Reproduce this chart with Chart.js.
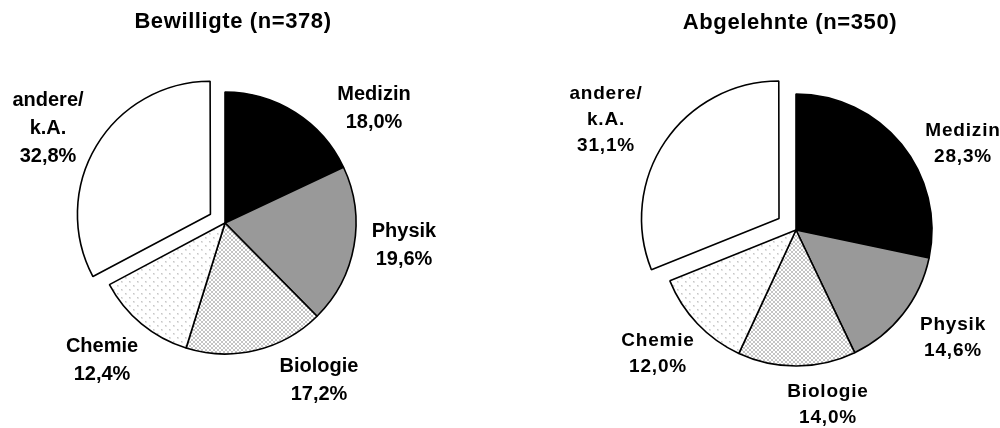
<!DOCTYPE html>
<html lang="de">
<head>
<meta charset="utf-8">
<title>Fachgebiete: Bewilligte und Abgelehnte</title>
<script src="https://cdn.jsdelivr.net/npm/chart.js@4/dist/chart.umd.min.js"></script>
<style>
  html, body { margin: 0; padding: 0; background: #ffffff; }
  #wrap { position: relative; width: 1000px; height: 428px; overflow: hidden; }
  .pane { position: absolute; top: 0; width: 500px; height: 428px; }
  #paneLeft { left: 0; }
  #paneRight { left: 500px; }
</style>
</head>
<body>
<div id="wrap">
  <div class="pane" id="paneLeft"><canvas id="chartLeft"></canvas></div>
  <div class="pane" id="paneRight"><canvas id="chartRight"></canvas></div>
</div>
<script>
// ---- data ----
const categories = ['Medizin', 'Physik', 'Biologie', 'Chemie', 'andere/\nk.A.'];
const titleBewilligt = 'Bewilligte (n=378)';
const titleAbgelehnt = 'Abgelehnte (n=350)';
const bewilligtShares = [18.0, 19.6, 17.2, 12.4, 32.8];
const abgelehntShares = [28.3, 14.6, 14.0, 12.0, 31.1];

// ---- fills: solid black, grey, cross-hatch, dotted, white ----
function makeTile(size, painter) {
  const c = document.createElement('canvas');
  c.width = size; c.height = size;
  const g = c.getContext('2d');
  g.fillStyle = '#ffffff';
  g.fillRect(0, 0, size, size);
  painter(g);
  return document.createElement('canvas').getContext('2d').createPattern(c, 'repeat');
}
const hatchFill = makeTile(4, g => {
  g.fillStyle = '#c4c4c4';
  for (let i = 0; i < 4; i++) {
    g.fillRect(i, i, 1, 1);
    g.fillRect(3 - i, i, 1, 1);
  }
});
const dotFill = makeTile(8, g => {
  g.fillStyle = '#e4e4e4';
  g.fillRect(1, 1, 2, 2);
  g.fillRect(5, 5, 2, 2);
  g.fillStyle = '#c6c6c6';
  g.fillRect(1, 1, 1, 1);
  g.fillRect(5, 5, 1, 1);
});
const sliceFills = ['#000000', '#999999', hatchFill, dotFill, '#ffffff'];

const fmtPct = v => v.toFixed(1).replace('.', ',') + '%';

// Category + percentage labels, placed around the pie centre
const sliceLabels = {
  id: 'sliceLabels',
  afterDatasetsDraw(chart, args, opts) {
    const ctx = chart.ctx;
    const meta = chart.getDatasetMeta(0);
    const values = chart.data.datasets[0].data;
    ctx.save();
    ctx.fillStyle = '#000000';
    ctx.font = 'bold ' + opts.size + 'px "Liberation Sans", Arial, sans-serif';
    ctx.letterSpacing = opts.spacing + 'px';
    ctx.textAlign = 'center';
    ctx.textBaseline = 'middle';
    meta.data.forEach((arc, i) => {
      const lines = chart.data.labels[i].split('\n').concat([fmtPct(values[i])]);
      const [dx, dy] = opts.offsets[i];
      const cx = arc.x + dx;
      const top = arc.y + dy - (lines.length - 1) * opts.lineHeight / 2;
      lines.forEach((t, k) => ctx.fillText(t, cx, top + k * opts.lineHeight));
    });
    ctx.restore();
  }
};

// Chart heading
const heading = {
  id: 'heading',
  afterDraw(chart, args, opts) {
    const ctx = chart.ctx;
    ctx.save();
    ctx.fillStyle = '#000000';
    ctx.font = 'bold 22px "Liberation Sans", Arial, sans-serif';
    ctx.letterSpacing = '0.6px';
    ctx.textAlign = 'center';
    ctx.textBaseline = 'alphabetic';
    ctx.fillText(opts.text, opts.x, opts.y);
    ctx.restore();
  }
};

function buildPie(canvasId, values, cfg) {
  return new Chart(document.getElementById(canvasId), {
    type: 'pie',
    data: {
      labels: categories,
      datasets: [{
        data: values,
        backgroundColor: sliceFills,
        borderColor: '#000000',
        borderWidth: 1.6,
        offset: [0, 0, 0, 0, cfg.explode]
      }]
    },
    options: {
      responsive: true,
      maintainAspectRatio: false,
      animation: false,
      events: [],
      radius: cfg.radius,
      layout: { padding: cfg.padding },
      plugins: {
        legend: { display: false },
        tooltip: { enabled: false },
        title: { display: false },
        heading: cfg.heading,
        sliceLabels: cfg.labels
      }
    },
    plugins: [sliceLabels, heading]
  });
}

buildPie('chartLeft', bewilligtShares, {
  radius: 131,
  explode: 68,
  padding: { left: 0, right: 50, top: 18, bottom: 0 },
  heading: { text: titleBewilligt, x: 233, y: 28 },
  labels: {
    size: 20, spacing: 0, lineHeight: 28,
    offsets: [[149, -115], [179, 22], [94, 157], [-123, 137], [-177, -95]]
  }
});

buildPie('chartRight', abgelehntShares, {
  radius: 136,
  explode: 82,
  padding: { left: 92, right: 0, top: 32, bottom: 0 },
  heading: { text: titleAbgelehnt, x: 290, y: 29 },
  labels: {
    size: 19, spacing: 0.8, lineHeight: 26,
    offsets: [[167, -86], [157, 108], [32, 175], [-138, 124], [-190, -110]]
  }
});
</script>
</body>
</html>
